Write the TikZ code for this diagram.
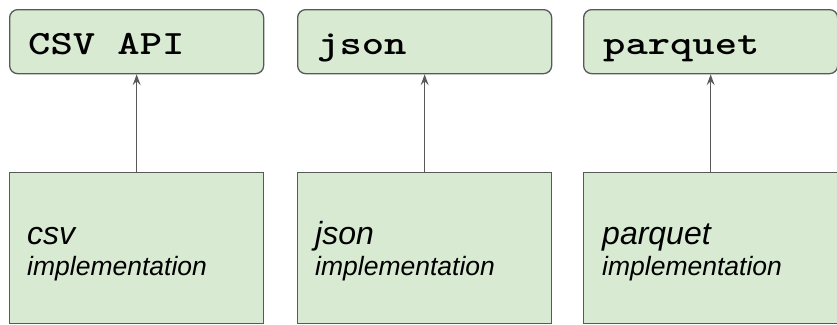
\documentclass[tikz,border=0pt]{standalone}
\usepackage{fontspec}
\setmainfont{Liberation Sans}
\usetikzlibrary{arrows.meta}
\definecolor{boxfill}{HTML}{D9EAD3}
\definecolor{edgegray}{HTML}{595959}
% wide typewriter lettering for the API names
\newcommand{\apiname}[1]{\scalebox{1.25}[1]{#1}}

\begin{document}
\begin{tikzpicture}[x=1pt,y=-1pt,
  apibox/.style={draw=edgegray, fill=boxfill, line width=1.3pt, rounded corners=8pt,
    minimum width=254pt, minimum height=64pt, inner sep=0pt, anchor=north west},
  implbox/.style={draw=edgegray, fill=boxfill, line width=1.3pt,
    minimum width=254pt, minimum height=151pt, inner sep=0pt, anchor=north west},
  apilabel/.style={font=\ttfamily\bfseries\fontsize{34}{40}\selectfont,
    anchor=base west, inner sep=0pt},
  namelabel/.style={font=\itshape\fontsize{32}{36}\selectfont, anchor=base west, inner sep=0pt},
  impllabel/.style={font=\itshape\fontsize{26.5}{30}\selectfont, anchor=base west, inner sep=0pt},
  uses/.style={draw=edgegray, line width=1.3pt, -{Stealth[length=11pt,width=8pt,inset=4pt]}}
]
\useasboundingbox (0,0) rectangle (837,324);

% API boxes (top row)
\node[apibox] (csvapi) at (9,9) {};
\node[apibox] (jsonapi) at (297,9) {};
\node[apibox] (parquetapi) at (583,9) {};
\node[apilabel] (csvapitxt) at (28,54) {\apiname{CSV API}};
\node[apilabel] (jsonapitxt) at (317,54) {\apiname{json}};
\node[apilabel] (parquetapitxt) at (603,54) {\apiname{parquet}};

% implementation boxes (bottom row)
\node[implbox] (csvimpl) at (9,172) {};
\node[implbox] (jsonimpl) at (297,172) {};
\node[implbox] (parquetimpl) at (583,172) {};
\node[namelabel] (csvname) at (27,244) {csv};
\node[impllabel] (csvimpltxt) at (27,275) {implementation};
\node[namelabel] (jsonname) at (315,244) {json};
\node[impllabel] (jsonimpltxt) at (315,275) {implementation};
\node[namelabel] (parquetname) at (602,244) {parquet};
\node[impllabel] (parquetimpltxt) at (602,275) {implementation};

% each implementation provides its API
\draw[uses] (csvimpl.north) -- (csvapi.south);
\draw[uses] (jsonimpl.north) -- (jsonapi.south);
\draw[uses] (parquetimpl.north) -- (parquetapi.south);
\end{tikzpicture}
\end{document}
